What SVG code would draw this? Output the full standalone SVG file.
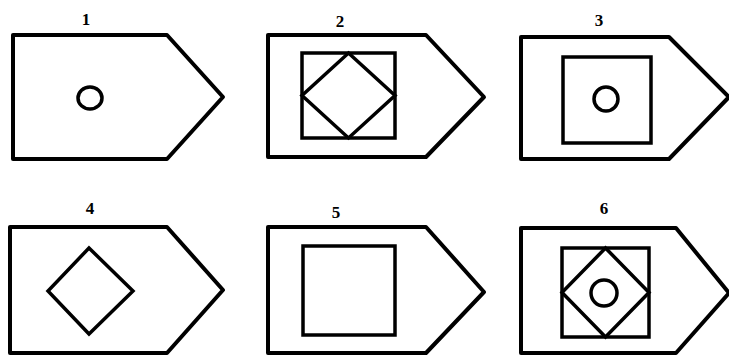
<svg xmlns="http://www.w3.org/2000/svg" width="729" height="360" viewBox="0 0 729 360">
<style>
.o{fill:none;stroke:#000;stroke-width:4;stroke-linejoin:round}
.i{fill:none;stroke:#000;stroke-width:3.5;stroke-linejoin:miter}
.t{font-family:"Liberation Serif",serif;font-weight:bold;font-size:17px;text-anchor:middle;fill:#000}
</style>
<rect width="729" height="360" fill="#fff"/>
<g id="n1">
<path class="o" d="M13,35 H167 L223,97 L167,159 H13 Z"/>
<ellipse class="i" cx="90" cy="98" rx="12" ry="11"/>
<text class="t" x="86" y="25">1</text>
</g>
<g id="n2">
<path class="o" d="M268,35 H426 L484,97 L426,157 H268 Z"/>
<rect class="i" x="302" y="53" width="93" height="85"/>
<path class="i" d="M348.5,53 L395,95.5 L348.5,138 L302,95.5 Z"/>
<text class="t" x="340" y="27">2</text>
</g>
<g id="n3">
<path class="o" d="M521,37 H669 L729,97 L669,159 H521 Z"/>
<rect class="i" x="563" y="57" width="88" height="86"/>
<circle class="i" cx="606" cy="99" r="12"/>
<text class="t" x="599" y="26">3</text>
</g>
<g id="n4">
<path class="o" d="M10,227 H167 L223,290 L167,353 H10 Z"/>
<path class="i" d="M89,248 L133,291 L89,334 L48,291 Z"/>
<text class="t" x="90" y="214">4</text>
</g>
<g id="n5">
<path class="o" d="M268,227 H426 L484,292 L426,353 H268 Z"/>
<rect class="i" x="303" y="246" width="92" height="89"/>
<text class="t" x="336" y="218">5</text>
</g>
<g id="n6">
<path class="o" d="M521,228 H676 L729,293 L676,353 H521 Z"/>
<rect class="i" x="562" y="248" width="87" height="89"/>
<path class="i" d="M605.5,248 L649,292.5 L605.5,337 L562,292.5 Z"/>
<circle class="i" cx="604" cy="293" r="13"/>
<text class="t" x="604" y="214">6</text>
</g>
<g id="connectors"></g>
</svg>
